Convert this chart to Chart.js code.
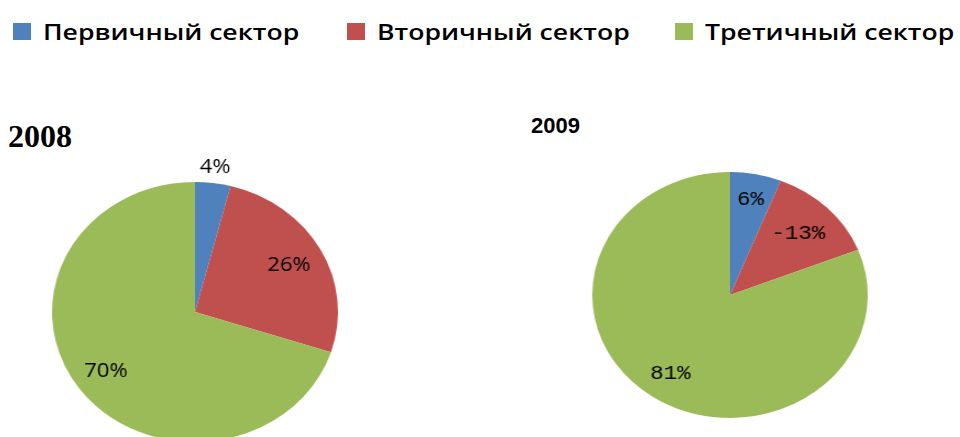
<!DOCTYPE html>
<html>
<head>
    <title>Секторы экономики 2008-2009</title>
    <script src="https://cdn.jsdelivr.net/npm/chart.js"></script>
    <style>
        body {
            margin: 0;
            width: 960px;
            height: 437px;
            overflow: hidden;
            background: #fff;
            position: relative;
        }
        .sq {
            position: absolute;
            width: 18px;
            height: 17px;
        }
        .legend-text {
            position: absolute;
            font-family: "Open Sans", sans-serif;
            font-weight: 600;
            font-size: 22px;
            line-height: 22px;
            white-space: nowrap;
            color: #000;
            transform: scaleX(1.21);
            transform-origin: 0 0;
        }
        .title {
            position: absolute;
            white-space: nowrap;
            color: #000;
        }
        .pie-box {
            position: absolute;
            width: 320px;
            height: 320px;
            transform-origin: 160px 160px;
        }
    </style>
</head>
<body>
    <div id="legend"></div>

    <div class="title" style="left:8px; top:120px; font: bold 32px/32px 'Liberation Serif', serif;">2008</div>
    <div class="title" style="left:531px; top:115px; font: bold 22px/22px 'Liberation Sans', sans-serif;">2009</div>

    <div class="pie-box" style="left:35px; top:152px; transform: scaleX(1.1);">
        <canvas id="pie2008"></canvas>
    </div>
    <div class="pie-box" style="left:570px; top:135px; transform: scaleX(1.12);">
        <canvas id="pie2009"></canvas>
    </div>

    <script>
        const sectors = ["Первичный сектор", "Вторичный сектор", "Третичный сектор"];
        const values2008 = [4, 26, 70];
        const values2009 = [6, -13, 81];
        const colors = ["#4F81BD", "#C0504D", "#9BBB59"];

        // legend row across the top
        const legendX = [13, 347, 675];
        const legend = document.getElementById("legend");
        sectors.forEach((name, i) => {
            const sq = document.createElement("div");
            sq.className = "sq";
            sq.style.left = legendX[i] + "px";
            sq.style.top = "23px";
            sq.style.background = colors[i];
            legend.appendChild(sq);

            const txt = document.createElement("div");
            txt.className = "legend-text";
            txt.style.left = (legendX[i] + 30) + "px";
            txt.style.top = "20px";
            txt.textContent = name;
            legend.appendChild(txt);
        });

        // draws the value labels at a fraction of the slice radius
        const sliceLabels = {
            id: "sliceLabels",
            afterDatasetsDraw(chart, args, opts) {
                const ctx = chart.ctx;
                const meta = chart.getDatasetMeta(0);
                const data = chart.data.datasets[0].data;
                ctx.save();
                ctx.font = opts.font;
                ctx.fillStyle = "#000";
                ctx.textAlign = "center";
                ctx.textBaseline = "middle";
                meta.data.forEach((arc, i) => {
                    const p = arc.getProps(["x", "y", "startAngle", "endAngle", "outerRadius"], true);
                    const mid = (p.startAngle + p.endAngle) / 2;
                    const r = p.outerRadius * opts.radius[i];
                    ctx.fillText(data[i] + "%", p.x + Math.cos(mid) * r, p.y + Math.sin(mid) * r);
                });
                ctx.restore();
            }
        };

        function makePie(id, values, pad, labelFont, labelRadius) {
            new Chart(document.getElementById(id), {
                type: "pie",
                data: {
                    labels: sectors,
                    datasets: [{
                        data: values,
                        backgroundColor: colors,
                        borderWidth: 0
                    }]
                },
                options: {
                    responsive: true,
                    maintainAspectRatio: false,
                    animation: false,
                    layout: { padding: pad },
                    plugins: {
                        legend: { display: false },
                        tooltip: { enabled: false },
                        sliceLabels: { font: labelFont, radius: labelRadius }
                    }
                },
                plugins: [sliceLabels]
            });
        }

        makePie("pie2008", values2008, 30, "20px 'Open Sans'", [1.12, 0.75, 0.77]);
        makePie("pie2009", values2009, 37, "20px 'Liberation Mono'", [0.79, 0.70, 0.77]);
    </script>
</body>
</html>
